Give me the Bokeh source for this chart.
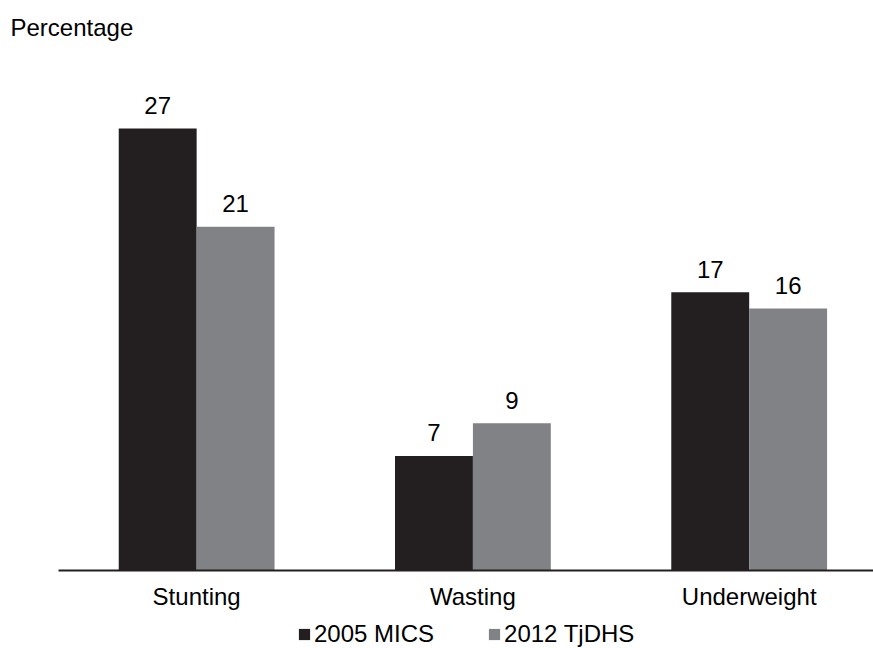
from bokeh.plotting import figure
from bokeh.models import ColumnDataSource, Range1d, Legend, LegendItem, Label
from bokeh.transform import dodge
from bokeh.core.properties import value
from bokeh.embed import file_html
from bokeh.resources import INLINE

categories = ["Stunting", "Wasting", "Underweight"]
mics_2005 = [27, 7, 17]
tjdhs_2012 = [21, 9, 16]
series_names = ["2005 MICS", "2012 TjDHS"]

DARK = "#231f20"
GRAY = "#808285"
FONT = "Liberation Sans"
FS = "24px"

xpos = list(range(len(categories)))
src = ColumnDataSource(dict(
    x=xpos, cat=categories, a=mics_2005, b=tjdhs_2012, base=[0] * len(categories),
    at=[str(v) for v in mics_2005], bt=[str(v) for v in tjdhs_2012],
))

W, H = 873, 648
p = figure(width=W, height=H, output_backend="svg", toolbar_location=None,
           x_range=Range1d(-0.71, 2.45), y_range=Range1d(-4.765, 34.82),
           min_border_left=0, min_border_right=0, min_border_top=0, min_border_bottom=0,
           title=None)
p.outline_line_color = None
p.grid.visible = False
p.axis.visible = False

bw = 0.282
r1 = p.vbar(x=dodge("x", -bw / 2), top="a", width=bw, source=src, color=DARK, line_color=None)
r2 = p.vbar(x=dodge("x", bw / 2), top="b", width=bw, source=src, color=GRAY, line_color=None)

# baseline (category axis line), starting half a category before the first group
p.segment(x0=[xpos[0] - 0.5], x1=[2.45], y0=[0], y1=[0], line_color=DARK, line_width=2)

p.text(x=dodge("x", -bw / 2), y="a", text="at", source=src, text_align="center",
       text_baseline="alphabetic", y_offset=-23, text_font=value(FONT),
       text_font_size=FS, text_color="black")
p.text(x=dodge("x", bw / 2), y="b", text="bt", source=src, text_align="center",
       text_baseline="alphabetic", y_offset=-23, text_font=value(FONT),
       text_font_size=FS, text_color="black")

# category labels under the baseline
p.text(x="x", y="base", text="cat", source=src, text_align="center",
       text_baseline="alphabetic", y_offset=26, text_font=value(FONT),
       text_font_size=FS, text_color="black")

p.add_layout(Label(x=10, y=H - 27, x_units="screen", y_units="screen", text="Percentage",
                   text_font=FONT, text_font_size=FS, text_color="black",
                   text_baseline="alphabetic"))

legend = Legend(items=[LegendItem(label=series_names[0], renderers=[r1]),
                       LegendItem(label=series_names[1], renderers=[r2])],
                orientation="horizontal", location=(297, 0),
                glyph_width=14, glyph_height=14, label_standoff=3, spacing=53,
                padding=0, margin=0, border_line_alpha=0, background_fill_alpha=0,
                label_text_font=FONT, label_text_font_size=FS, label_text_color="black",
                label_text_line_height=1.0)
p.add_layout(legend, "center")

open("out.html", "w").write(file_html(p, INLINE))
